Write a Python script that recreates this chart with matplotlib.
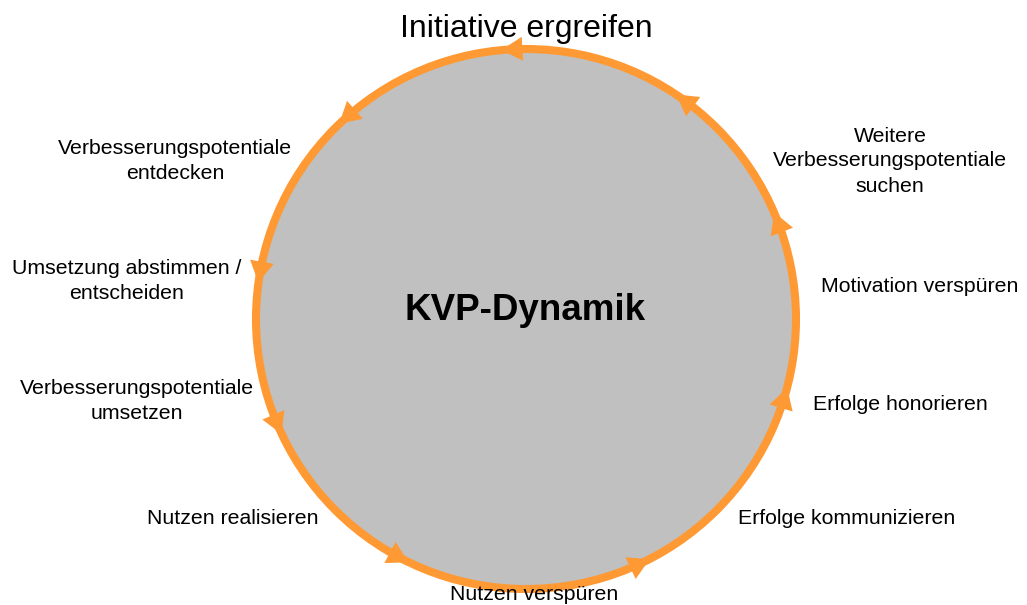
import numpy as np
from matplotlib import pyplot as plt
from matplotlib.patches import Circle, Polygon

plt.rcParams['font.family'] = ['Liberation Sans', 'DejaVu Sans']

# cycle labels (text, x, y in pixels)
title = "Initiative ergreifen"
center_label = "KVP-Dynamik"
labels = [
    ("Verbesserungspotentiale\nentdecken", 175, 161),
    ("Weitere\nVerbesserungspotentiale\nsuchen", 890, 161),
    ("Umsetzung abstimmen /\nentscheiden", 127, 281),
    ("Motivation verspüren", 920, 286),
    ("Verbesserungspotentiale\numsetzen", 137, 401),
    ("Erfolge honorieren", 900, 405),
    ("Nutzen realisieren", 233, 518),
    ("Erfolge kommunizieren", 847, 519),
    ("Nutzen verspüren", 534, 595),
]
# angles (deg, counterclockwise from east) of the arrow heads on the ring
arrow_angles = [93, 131.5, 170, 203, 242, 295, 343, 21, 54]

orange = '#FF9933'
gray = '#C0C0C0'
cx, cy, r = 526, 319, 270

fig = plt.figure(figsize=(10.27, 6.05), dpi=100)
ax = fig.add_axes([0, 0, 1, 1])
ax.set_xlim(0, 1027)
ax.set_ylim(605, 0)
ax.set_aspect('equal')
ax.axis('off')

ax.add_patch(Circle((cx, cy), r, facecolor=gray, edgecolor=orange, linewidth=5.8, zorder=1))

L, W = 21, 24
for a in arrow_angles:
    th = np.deg2rad(a)
    p = np.array([cx + r * np.cos(th), cy - r * np.sin(th)])
    t = np.array([-np.sin(th), -np.cos(th)])
    n = np.array([np.cos(th), -np.sin(th)])
    tip = p + L / 2 * t
    b1 = p - L / 2 * t + W / 2 * n
    b2 = p - L / 2 * t - W / 2 * n
    ax.add_patch(Polygon([tip, b1, b2], closed=True, facecolor=orange, edgecolor='none', zorder=2))

ax.text(526, 29, title, fontsize=23, ha='center', va='center')
ax.text(525, 310, center_label, fontsize=26.5, fontweight='bold', ha='center', va='center')
for txt, x, y in labels:
    ax.text(x, y, txt, fontsize=15.3, ha='center', va='center', linespacing=1.4)

fig.savefig('out.png', dpi=100)
